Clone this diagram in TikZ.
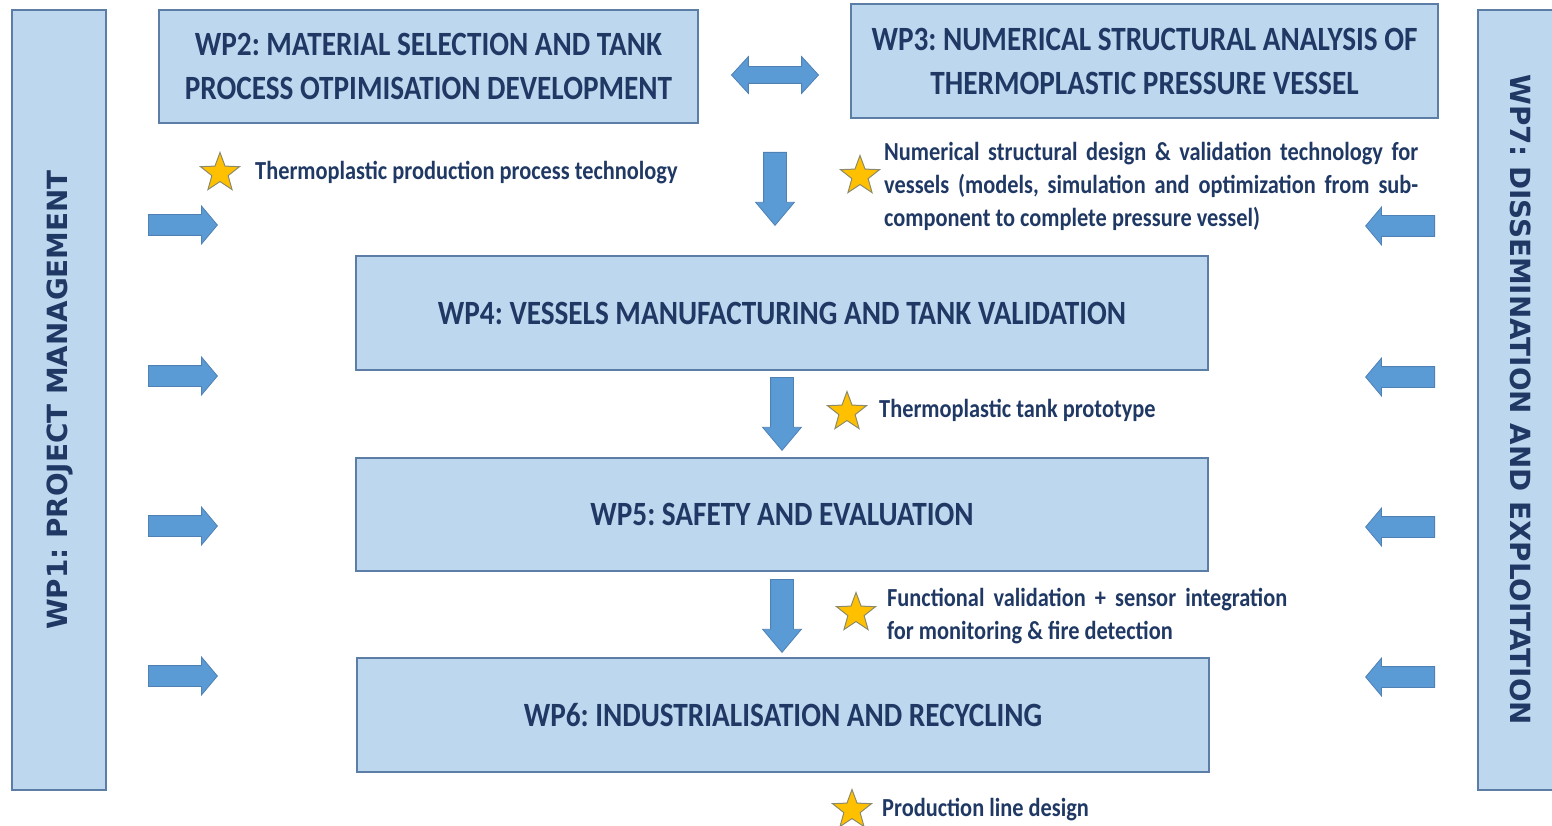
\documentclass[tikz,border=0pt]{standalone}
\usepackage{fontspec}
\setmainfont{Carlito}[FakeStretch=0.86]
\newfontfamily\sidefont{DejaVu Sans}
\usetikzlibrary{positioning,shapes.geometric,shapes.arrows}
\frenchspacing

\definecolor{wpfill}{HTML}{BDD7EE}
\definecolor{wpline}{HTML}{5B7DA6}
\definecolor{wptext}{HTML}{1F3864}
\definecolor{arrfill}{HTML}{5B9BD5}
\definecolor{arrline}{HTML}{4F81B5}
\definecolor{starfill}{HTML}{FFC000}
\definecolor{starline}{HTML}{8C8A6A}

\tikzset{
  wpbox/.style={draw=wpline, fill=wpfill, line width=1.3pt, inner sep=0pt,
    align=center, text=wptext, font=\bfseries\fontsize{34}{44}\selectfont},
  sidetext/.style={text=wptext, inner sep=0pt,
    font=\sidefont\bfseries\fontsize{27.8}{30}\selectfont},
  block/.style={single arrow, draw=arrline, fill=arrfill, line width=0.8pt,
    inner xsep=0pt, inner ysep=10pt, single arrow head extend=8.5pt,
    single arrow tip angle=100, minimum height=69pt, anchor=tail},
  downblock/.style={block, rotate=-90, inner ysep=11pt,
    single arrow head extend=8pt, single arrow tip angle=80, minimum height=73pt},
  twoway/.style={double arrow, draw=arrline, fill=arrfill, line width=0.8pt,
    inner xsep=0pt, inner ysep=8pt, double arrow head extend=10pt,
    double arrow tip angle=95, minimum height=87pt},
  result/.style={star, star points=5, star point ratio=2.4, minimum size=41pt,
    inner sep=0pt, fill=starfill, draw=starline, line width=1pt},
  note/.style={text=wptext, inner sep=0pt, anchor=west,
    font=\bfseries\fontsize{26}{33}\selectfont}
}

\begin{document}
\begin{tikzpicture}[x=1pt,y=-1pt]
\useasboundingbox (0,0) rectangle (1552,826);
\clip (0,0) rectangle (1552,826);

\node[wpbox, minimum width=94pt, minimum height=780pt] (wp1) at (59,400) {};
\node[sidetext, rotate=90] at (60,400) {WP1: PROJECT MANAGEMENT};
\node[wpbox, minimum width=94pt, minimum height=780pt] (wp7) at (1525,400) {};
\node[sidetext, rotate=-90] at (1521,400) {WP7: DISSEMINATION AND EXPLOITATION};

\node[wpbox, minimum width=539pt, minimum height=113pt] (wp2) at (428.5,66.5)
  {WP2: MATERIAL SELECTION AND TANK\\PROCESS OTPIMISATION DEVELOPMENT};
\node[wpbox, minimum width=587pt, minimum height=114pt] (wp3) at (1144.5,61)
  {WP3: NUMERICAL STRUCTURAL ANALYSIS OF\\THERMOPLASTIC PRESSURE VESSEL};
\node[wpbox, minimum width=852pt, minimum height=114pt] (wp4) at (782,313)
  {WP4: VESSELS MANUFACTURING AND TANK VALIDATION};
\node[wpbox, minimum width=852pt, minimum height=113pt] (wp5) at (782,514.5)
  {WP5: SAFETY AND EVALUATION};
\node[wpbox, minimum width=852pt, minimum height=114pt] (wp6) at (783,715)
  {WP6: INDUSTRIALISATION AND RECYCLING};

\node[twoway] (a23) at (775,75) {};
\node[downblock] (a34) at (775,152) {};
\node[downblock] (a45) at (782,377) {};
\node[downblock] (a56) at (782,579) {};

\foreach \y [count=\i] in {225,376,526,676} {
  \node[block] (in\i) at (148,\y) {};
  \node[block, rotate=180] (out\i) at (1435,\y+1) {};
}

\node[result] (s1) at (220,173) {};
\node[note] (t1) at (255,173) {Thermoplastic production process technology};
\node[result] (s2) at (860,176) {};
\node[note, text width=534pt, align=justify] (t2) at (884,186)
  {Numerical structural design \& validation technology for\linebreak
   vessels (models, simulation and optimization from sub-\linebreak
   component to complete pressure vessel)};
\node[result] (s3) at (847,412) {};
\node[note] (t3) at (879,410) {Thermoplastic tank prototype};
\node[result] (s4) at (856,613) {};
\node[note, text width=400pt, align=justify] (t4) at (887,616)
  {Functional validation + sensor integration\linebreak
   for monitoring \& fire detection};
\node[result] (s5) at (852,810) {};
\node[note] (t5) at (882,810) {Production line design};
\end{tikzpicture}
\end{document}
